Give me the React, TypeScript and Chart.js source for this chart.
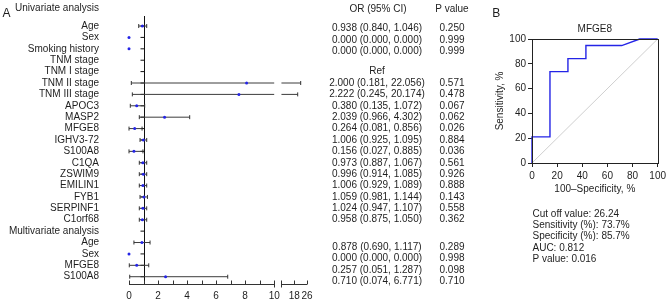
import React, { useEffect, useRef } from 'react';
import { Chart, registerables } from 'chart.js';

Chart.register(...registerables);

// ---------- Forest plot data ----------
const rowLabels = [
  'Age', 'Sex', 'Smoking history', 'TNM stage', 'TNM I stage', 'TNM II stage', 'TNM III stage',
  'APOC3', 'MASP2', 'MFGE8', 'IGHV3-72', 'S100A8', 'C1QA', 'ZSWIM9', 'EMILIN1', 'FYB1',
  'SERPINF1', 'C1orf68', 'Multivariate analysis', 'Age', 'Sex', 'MFGE8', 'S100A8',
];
const orTexts = [
  '0.938 (0.840, 1.046)', '0.000 (0.000, 0.000)', '0.000 (0.000, 0.000)', '', 'Ref',
  '2.000 (0.181, 22.056)', '2.222 (0.245, 20.174)', '0.380 (0.135, 1.072)', '2.039 (0.966, 4.302)',
  '0.264 (0.081, 0.856)', '1.006 (0.925, 1.095)', '0.156 (0.027, 0.885)', '0.973 (0.887, 1.067)',
  '0.996 (0.914, 1.085)', '1.006 (0.929, 1.089)', '1.059 (0.981, 1.144)', '1.024 (0.947, 1.107)',
  '0.958 (0.875, 1.050)', '', '0.878 (0.690, 1.117)', '0.000 (0.000, 0.000)', '0.257 (0.051, 1.287)',
  '0.710 (0.074, 6.771)',
];
const pTexts = [
  '0.250', '0.999', '0.999', '', '', '0.571', '0.478', '0.067', '0.062', '0.026', '0.884', '0.036',
  '0.561', '0.926', '0.888', '0.143', '0.558', '0.362', '', '0.289', '0.998', '0.098', '0.710',
];
// plotted marks as drawn in the figure
const estimates: (number | null)[] = [
  0.92, 0, 0, null, null, 8.1, 7.57, 0.53, 2.45, 0.39, 0.99, 0.34, 0.96, 0.99, 0.96, 1.03, 0.96,
  0.92, null, 0.89, 0, 0.53, 2.52,
];
const ciLow: (number | null)[] = [
  0.67, null, null, null, null, 0.16, 0.23, 0.09, 0.71, 0.0, 0.76, 0.0, 0.71, 0.71, 0.71, 0.76,
  0.71, 0.71, null, 0.34, null, 0.02, 0.05,
];
const ciHigh: (number | null)[] = [
  1.22, null, null, null, null, 22.056, 20.174, 1.08, 4.18, 0.9, 1.22, 0.96, 1.22, 1.22, 1.22,
  1.27, 1.22, 1.22, null, 1.45, null, 1.36, 6.8,
];
const xTickValues = [0, 2, 4, 6, 8, 10, 18, 26];
const xMinorTicks = [1, 3, 5, 7, 9];
const refValue = 1;

// ---------- ROC data ----------
const rocFpr = [0, 0, 14.3, 14.3, 28.6, 28.6, 42.9, 42.9, 71.4, 85.7, 100];
const rocTpr = [0, 21.1, 21.1, 73.7, 73.7, 84.2, 84.2, 94.7, 94.7, 100, 100];
const statLines = [
  'Cut off value: 26.24',
  'Sensitivity (%): 73.7%',
  'Specificity (%): 85.7%',
  'AUC: 0.812',
  'P value: 0.016',
];

// ---------- broken x axis ----------
const BREAK_AT = 10;
const BREAK_GAP = 0.5;
const COMPRESS = 0.11;
const X_END = 26;
const toAxis = (v: number) => (v <= BREAK_AT ? v : BREAK_AT + BREAK_GAP + (v - BREAK_AT) * COMPRESS);

const FONT = "'Liberation Sans', Arial, Helvetica, sans-serif";
const TEXT = '#1e1e1e';
const BLUE = '#2424e6';

Chart.defaults.font.family = FONT;
Chart.defaults.font.size = 10;
Chart.defaults.color = TEXT;

const tableNudge = (i: number) => (i <= 2 ? 2.5 : i >= 18 ? 4.5 : 0);

const forestDecor = {
  id: 'forestDecor',
  beforeDatasetsDraw(chart: any) {
    const { ctx, chartArea, scales } = chart;
    const x = scales.x, y = scales.y;
    const xr = Math.round(x.getPixelForValue(refValue)) + 0.5;
    ctx.save();
    ctx.strokeStyle = '#111';
    ctx.lineWidth = 1;
    ctx.beginPath();
    ctx.moveTo(xr, chartArea.top);
    ctx.lineTo(xr, chartArea.bottom);
    rowLabels.forEach((_, i) => {
      const py = y.getPixelForValue(i);
      ctx.moveTo(xr - 4, py);
      ctx.lineTo(xr, py);
    });
    ctx.stroke();
    ctx.restore();
  },
  afterDraw(chart: any) {
    const { ctx, chartArea, scales } = chart;
    const x = scales.x, y = scales.y;
    ctx.save();
    // axis with break
    const ay = Math.round(chartArea.bottom) + 0.5;
    const px = (v: number) => x.getPixelForValue(v);
    ctx.strokeStyle = '#333';
    ctx.lineWidth = 1;
    ctx.beginPath();
    ctx.moveTo(px(0), ay);
    ctx.lineTo(px(BREAK_AT), ay);
    ctx.moveTo(px(BREAK_AT + BREAK_GAP), ay);
    ctx.lineTo(px(toAxis(X_END)), ay);
    const upTicks = [...xTickValues.filter((v) => v < BREAK_AT), ...xMinorTicks, ...xTickValues.filter((v) => v > BREAK_AT)];
    upTicks.forEach((v) => {
      const t = Math.round(px(toAxis(v))) + 0.5;
      ctx.moveTo(t, ay);
      ctx.lineTo(t, ay - 4);
    });
    [BREAK_AT, BREAK_AT + BREAK_GAP].forEach((v) => {
      const t = Math.round(px(v)) + 0.5;
      ctx.moveTo(t, ay + 3);
      ctx.lineTo(t, ay - 4);
    });
    ctx.stroke();

    // text columns
    ctx.fillStyle = TEXT;
    ctx.font = `10px ${FONT}`;
    ctx.textBaseline = 'middle';
    const labelRight = chartArea.left - 30;
    ctx.textAlign = 'right';
    ctx.fillText('Univariate analysis', labelRight, 8.5);
    rowLabels.forEach((l, i) => ctx.fillText(l, labelRight, y.getPixelForValue(i)));
    ctx.textAlign = 'center';
    ctx.fillText('OR (95% CI)', 378, 9);
    ctx.fillText('P value', 452, 9);
    orTexts.forEach((t, i) => t && ctx.fillText(t, 377, y.getPixelForValue(i) + tableNudge(i)));
    pTexts.forEach((t, i) => t && ctx.fillText(t, 452, y.getPixelForValue(i) + tableNudge(i)));
    ctx.textAlign = 'left';
    ctx.textBaseline = 'alphabetic';
    ctx.font = `12px ${FONT}`;
    ctx.fillText('A', 2.5, 16.7);
    ctx.restore();
  },
};

const rocDecor = {
  id: 'rocDecor',
  afterDraw(chart: any) {
    const { ctx, chartArea } = chart;
    ctx.save();
    ctx.strokeStyle = '#222';
    ctx.lineWidth = 1;
    ctx.strokeRect(
      Math.round(chartArea.left) + 0.5,
      Math.round(chartArea.top) + 0.5,
      Math.round(chartArea.right - chartArea.left),
      Math.round(chartArea.bottom - chartArea.top),
    );
    ctx.fillStyle = TEXT;
    ctx.font = `12px ${FONT}`;
    ctx.textBaseline = 'alphabetic';
    ctx.textAlign = 'left';
    ctx.fillText('B', 22.3, 16.7);
    ctx.font = `10px ${FONT}`;
    ctx.textBaseline = 'middle';
    statLines.forEach((s, i) => ctx.fillText(s, chartArea.left + 0.5, 214.3 + i * 11.2));
    ctx.restore();
  },
};

export default function App() {
  const forestRef = useRef<HTMLCanvasElement>(null);
  const rocRef = useRef<HTMLCanvasElement>(null);

  useEffect(() => {
    const ciLine: any[] = [];
    const caps: any[] = [];
    const dots: any[] = [];
    rowLabels.forEach((_, i) => {
      const lo = ciLow[i];
      const hi = ciHigh[i];
      const e = estimates[i];
      if (lo != null && hi != null) {
        if (hi > BREAK_AT) {
          ciLine.push({ x: toAxis(lo), y: i }, { x: BREAK_AT, y: i }, { x: null, y: null });
          ciLine.push({ x: BREAK_AT + BREAK_GAP, y: i }, { x: toAxis(hi), y: i }, { x: null, y: null });
        } else {
          ciLine.push({ x: toAxis(lo), y: i }, { x: toAxis(hi), y: i }, { x: null, y: null });
        }
        caps.push({ x: toAxis(lo), y: i }, { x: toAxis(hi), y: i });
      }
      if (e != null) dots.push({ x: toAxis(e), y: i });
    });

    const forest = new Chart(forestRef.current!, {
      type: 'scatter',
      data: {
        datasets: [
          {
            data: dots,
            pointStyle: 'circle',
            pointRadius: 1.5,
            backgroundColor: BLUE,
            borderWidth: 0,
            clip: false,
          } as any,
          {
            data: caps,
            pointStyle: 'line',
            rotation: 90,
            pointRadius: 2,
            borderColor: '#333',
            borderWidth: 1,
            clip: false,
          } as any,
          {
            data: ciLine,
            showLine: true,
            spanGaps: false,
            pointRadius: 0,
            borderColor: '#3c3c3c',
            borderWidth: 1,
            clip: false,
          } as any,
        ],
      },
      options: {
        animation: false,
        responsive: false,
        devicePixelRatio: 1,
        events: [],
        layout: { padding: { left: 129, right: 163, top: 16, bottom: 0 } },
        plugins: { legend: { display: false }, tooltip: { enabled: false } },
        scales: {
          x: {
            type: 'linear',
            min: 0,
            max: toAxis(X_END),
            grid: { display: false, drawTicks: false },
            border: { display: false },
            afterBuildTicks: (s: any) => {
              s.ticks = xTickValues.map((v) => ({ value: toAxis(v) }));
            },
            afterFit: (s: any) => {
              s.height = 21;
            },
            ticks: {
              autoSkip: false,
              maxRotation: 0,
              padding: 6,
              color: TEXT,
              font: { size: 10 },
              callback: (_v: any, i: number) => String(xTickValues[i]),
            },
          },
          y: {
            type: 'linear',
            display: false,
            reverse: true,
            min: -0.88,
            max: 22.64,
          },
        },
      } as any,
      plugins: [forestDecor],
    });

    const rocPoints = rocFpr.map((x, i) => ({ x, y: rocTpr[i] }));
    const roc = new Chart(rocRef.current!, {
      type: 'scatter',
      data: {
        datasets: [
          {
            data: rocPoints,
            showLine: true,
            pointRadius: 0,
            borderColor: BLUE,
            borderWidth: 1.4,
            clip: false,
          } as any,
          {
            data: [{ x: 0, y: 0 }, { x: 100, y: 100 }],
            showLine: true,
            pointRadius: 0,
            borderColor: '#cfcfcf',
            borderWidth: 1,
          } as any,
        ],
      },
      options: {
        animation: false,
        responsive: false,
        devicePixelRatio: 1,
        events: [],
        layout: { padding: { left: 0, right: 11, top: 0, bottom: 110 } },
        plugins: {
          legend: { display: false },
          tooltip: { enabled: false },
          title: {
            display: true,
            text: 'MFGE8',
            fullSize: false,
            color: TEXT,
            font: { size: 10, weight: 'normal' },
            padding: { top: 23, bottom: 4 },
          },
        },
        scales: {
          x: {
            type: 'linear',
            min: 0,
            max: 100,
            grid: { drawOnChartArea: false, tickLength: 4, color: '#222' },
            border: { color: '#222' },
            ticks: { stepSize: 20, padding: 3, color: TEXT, font: { size: 10 }, maxRotation: 0 },
            title: {
              display: true,
              text: '100–Specificity, %',
              color: TEXT,
              font: { size: 10 },
              padding: { top: 0, bottom: 0 },
            },
            afterFit: (s: any) => {
              s.height = 32;
            },
          },
          y: {
            type: 'linear',
            min: 0,
            max: 100,
            grid: { drawOnChartArea: false, tickLength: 4, color: '#222' },
            border: { color: '#222' },
            ticks: { stepSize: 20, padding: 2, color: TEXT, font: { size: 10 } },
            title: {
              display: true,
              text: 'Sensitivity, %',
              color: TEXT,
              font: { size: 10 },
              padding: { top: 24, bottom: 0 },
            },
            afterFit: (s: any) => {
              s.width = 62;
            },
          },
        },
      } as any,
      plugins: [rocDecor],
    });

    return () => {
      forest.destroy();
      roc.destroy();
    };
  }, []);

  return (
    <div style={{ position: 'fixed', left: 0, top: 0, width: 669, height: 305, background: '#fff' }}>
      <canvas
        ref={forestRef}
        width={470}
        height={305}
        style={{ position: 'absolute', left: 0, top: 0, width: 470, height: 305 }}
      />
      <canvas
        ref={rocRef}
        width={199}
        height={305}
        style={{ position: 'absolute', left: 470, top: 0, width: 199, height: 305 }}
      />
    </div>
  );
}
